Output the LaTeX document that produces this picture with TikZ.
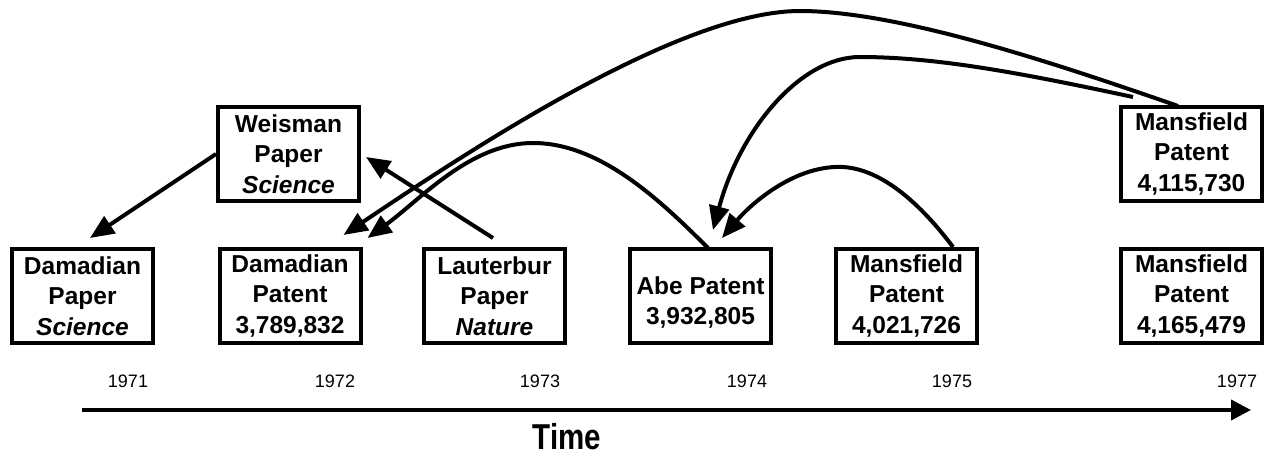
\documentclass[tikz,border=0pt]{standalone}
\usepackage{fontspec}
\setmainfont{Liberation Sans}
\usetikzlibrary{arrows.meta,calc}
\begin{document}
\begin{tikzpicture}[x=1pt,y=-1pt,
  box/.style={draw,line width=4pt,minimum width=141pt,minimum height=94pt,inner sep=0pt,
    align=center,font=\fontsize{24.5}{30.5}\selectfont\bfseries},
  conn/.style={line width=4pt,-{Triangle[length=24pt,width=20pt]}},
  year/.style={inner sep=0pt,font=\fontsize{18}{20}\selectfont},
  axis/.style={line width=4pt,-{Triangle[length=20pt,width=20pt]}}]
\useasboundingbox (0,0) rectangle (1272,457);

% boxes
\node[box] (dpap) at (82.5,296) {Damadian\\Paper\\\itshape Science};
\node[box] (dpat) at (290,296) {Damadian\\Patent\\3,789,832};
\node[box] (laut) at (494.5,296) {Lauterbur\\Paper\\\itshape Nature};
\node[box] (abe)  at (700.5,296) {\mbox{}\\Abe Patent\\3,932,805};
\node[box] (m1)   at (906.5,296) {Mansfield\\Patent\\4,021,726};
\node[box] (m3)   at (1191.5,296) {Mansfield\\Patent\\4,165,479};
\node[box] (weis) at (288.5,154) {Weisman\\Paper\\\itshape Science};
\node[box] (m2)   at (1191.5,154) {Mansfield\\Patent\\4,115,730};

% straight connectors
\draw[conn] (weis.west) -- ($(dpap.north)+(7.5,-9)$);
\draw[conn] ($(laut.north)+(-1.5,-9)$) -- ($(weis.east)+(5,3)$);

% curved connectors
\draw[conn] ($(m2.north)+(-13.5,1)$) .. controls (1060,65) and (900,11) .. (800,11)
  .. controls (680,11) and (470,150) .. ($(dpat.north east)+(-19,-12)$);
\draw[conn] ($(m2.north)+(-58.5,-8)$) .. controls (1030,75) and (940,57) .. (860,57)
  .. controls (800,57) and (740,130) .. ($(abe.north)+(12.5,-17)$);
\draw[conn] ($(m1.north)+(46.5,0)$) .. controls (910,190) and (870,165) .. (835,167)
  .. controls (790,169) and (750,205) .. ($(abe.north)+(21.5,-9)$);
\draw[conn] ($(abe.north)+(7.5,1)$) .. controls (660,200) and (600,143) .. (533,143)
  .. controls (470,143) and (420,200) .. ($(dpat.north east)+(5,-9)$);

% years
\node[year] (y71) at (128,381.5) {1971};
\node[year] (y72) at (335,381.5) {1972};
\node[year] (y73) at (540,381.5) {1973};
\node[year] (y74) at (747,381.5) {1974};
\node[year] (y75) at (952,381.5) {1975};
\node[year] (y77) at (1237,381.5) {1977};

% time axis
\coordinate (t0) at (82,410);
\coordinate (t1) at (1251,410);
\draw[axis] (t0) -- (t1);
\node[inner sep=0pt,font=\fontsize{36}{36}\selectfont\bfseries] (time) at (567,437) {\scalebox{0.82}[1]{Time}};
\end{tikzpicture}
\end{document}
